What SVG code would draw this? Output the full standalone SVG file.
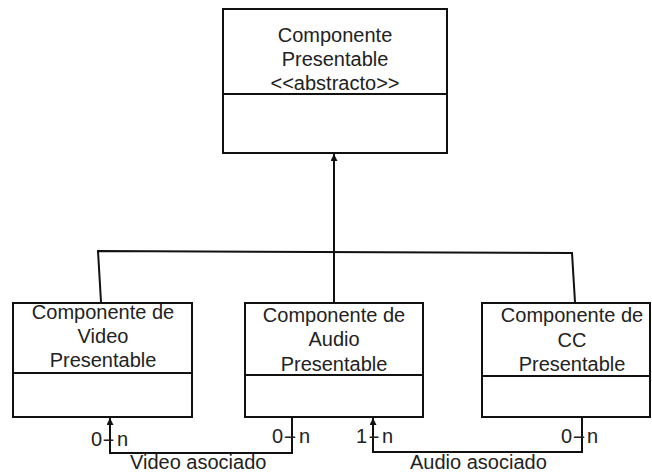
<svg xmlns="http://www.w3.org/2000/svg" width="652" height="472" viewBox="0 0 652 472">
<defs>
<style>
.box{fill:#fff;stroke:#111;stroke-width:2}
.div{stroke:#111;stroke-width:2}
.t{font-family:"Liberation Sans",Arial,sans-serif;font-size:20px;fill:#222;text-anchor:middle}
.l{font-family:"Liberation Sans",Arial,sans-serif;font-size:20px;fill:#222}
.c{fill:none;stroke:#111;stroke-width:2}
</style>
<marker id="ah" viewBox="0 0 10 10" refX="10" refY="5" markerWidth="7" markerHeight="7" markerUnits="userSpaceOnUse" orient="auto">
<path d="M0,0 L10,5 L0,10 z" fill="#111"/>
</marker>
</defs>
<rect width="652" height="472" fill="#fff"/>
<g id="componente-presentable">
<rect class="box" x="223" y="9" width="224" height="144"/>
<line class="div" x1="223" y1="94" x2="447" y2="94"/>
<text class="t" x="335" y="42">Componente</text>
<text class="t" x="335" y="66">Presentable</text>
<text class="t" x="335" y="90">&lt;&lt;abstracto&gt;&gt;</text>
</g>
<g id="componente-video">
<rect class="box" x="13" y="303" width="179" height="114"/>
<line class="div" x1="13" y1="373" x2="192" y2="373"/>
<text class="t" x="103" y="319">Componente de</text>
<text class="t" x="103" y="343">Video</text>
<text class="t" x="103" y="367">Presentable</text>
</g>
<g id="componente-audio">
<rect class="box" x="245" y="303" width="178" height="114"/>
<line class="div" x1="245" y1="375" x2="423" y2="375"/>
<text class="t" x="334" y="322">Componente de</text>
<text class="t" x="334" y="346">Audio</text>
<text class="t" x="334" y="371">Presentable</text>
</g>
<g id="componente-cc">
<rect class="box" x="482" y="303" width="168" height="114"/>
<line class="div" x1="482" y1="376" x2="650" y2="376"/>
<text class="t" x="572" y="322">Componente de</text>
<text class="t" x="572" y="347">CC</text>
<text class="t" x="572" y="371">Presentable</text>
</g>
<g id="connectors">
<line class="c" x1="334" y1="302" x2="334" y2="154" marker-end="url(#ah)"/>
<polyline class="c" points="101,302 98,251 572,253 575,302"/>
<polyline class="c" points="292,417 292,453 110,453 110,418" marker-end="url(#ah)"/>
<polyline class="c" points="582,417 582,452 373,452 373,418" marker-end="url(#ah)"/>
<text class="l" y="446"><tspan x="91">0</tspan><tspan x="102" textLength="13" lengthAdjust="spacingAndGlyphs">-</tspan><tspan x="117">n</tspan></text>
<text class="l" y="443"><tspan x="272">0</tspan><tspan x="283" textLength="14" lengthAdjust="spacingAndGlyphs">-</tspan><tspan x="299">n</tspan></text>
<text class="l" y="443"><tspan x="356">1</tspan><tspan x="368" textLength="12" lengthAdjust="spacingAndGlyphs">-</tspan><tspan x="382">n</tspan></text>
<text class="l" y="443"><tspan x="561">0</tspan><tspan x="572" textLength="14" lengthAdjust="spacingAndGlyphs">-</tspan><tspan x="587">n</tspan></text>
<text class="l" x="130" y="469">Video asociado</text>
<text class="l" x="410" y="469">Audio asociado</text>
</g>
</svg>
